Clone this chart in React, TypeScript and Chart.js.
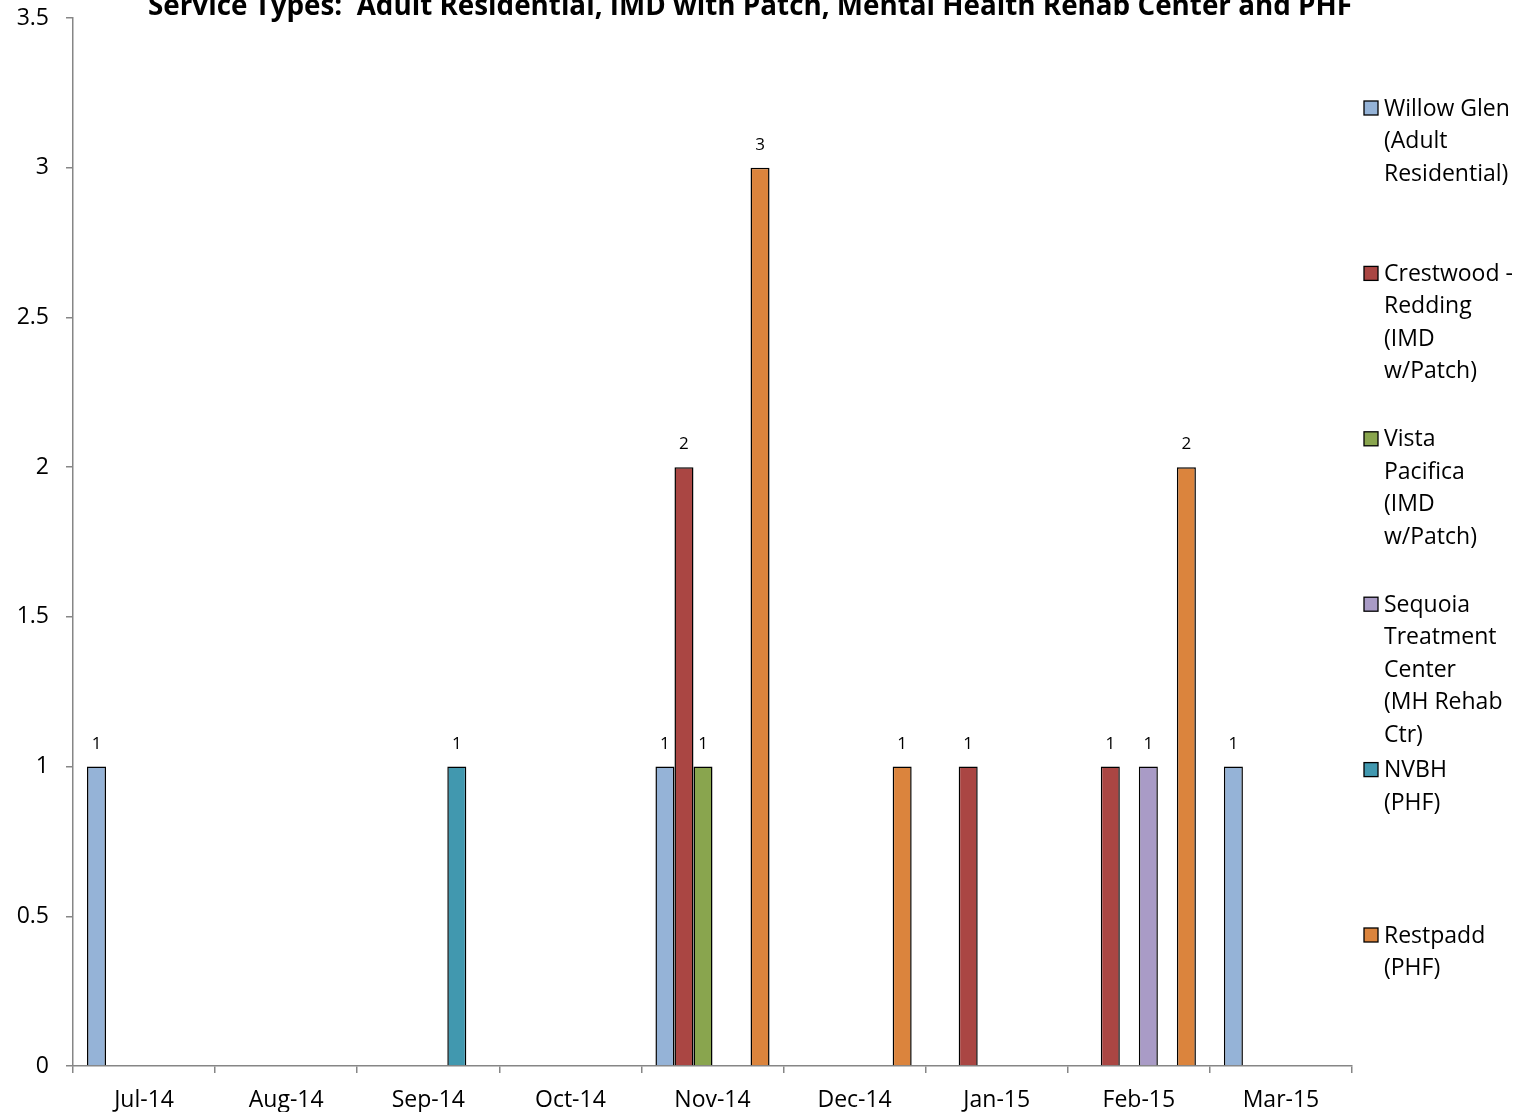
import React, { useEffect, useRef } from "react";
import { Chart, registerables } from "chart.js";

Chart.register(...registerables);

const title = "Service Types:  Adult Residential, IMD with Patch, Mental Health Rehab Center and PHF";
const categories = ["Jul-14", "Aug-14", "Sep-14", "Oct-14", "Nov-14", "Dec-14", "Jan-15", "Feb-15", "Mar-15"];

const seriesNames = [
  "Willow Glen\n(Adult\nResidential)",
  "Crestwood -\nRedding\n(IMD\nw/Patch)",
  "Vista\nPacifica\n(IMD\nw/Patch)",
  "Sequoia\nTreatment\nCenter\n(MH Rehab\nCtr)",
  "NVBH\n(PHF)",
  "Restpadd\n(PHF)",
];

const willowGlen = [1, null, null, null, 1, null, null, null, 1];
const crestwood = [null, null, null, null, 2, null, 1, 1, null];
const vistaPacifica = [null, null, null, null, 1, null, null, null, null];
const sequoia = [null, null, null, null, null, null, null, 1, null];
const nvbh = [null, null, 1, null, null, null, null, null, null];
const restpadd = [null, null, null, null, 3, 1, null, 2, null];

const seriesValues = [willowGlen, crestwood, vistaPacifica, sequoia, nvbh, restpadd];
const seriesColors = ["#95B3D7", "#AA4643", "#89A54E", "#A99BC6", "#4198AF", "#DB843D"];

const FONT = "'Open Sans', Lato, sans-serif";

const extrasPlugin = {
  id: "extras",
  afterDatasetsDraw(chart: any) {
    const ctx = chart.ctx;
    ctx.save();
    // data labels
    ctx.fillStyle = "#000";
    ctx.font = `17px ${FONT}`;
    ctx.textAlign = "center";
    ctx.textBaseline = "alphabetic";
    chart.data.datasets.forEach((ds: any, di: number) => {
      const meta = chart.getDatasetMeta(di);
      meta.data.forEach((bar: any, i: number) => {
        const v = ds.data[i];
        if (v === null || v === undefined) return;
        ctx.fillText(String(v), bar.x, bar.y - 18);
      });
    });
    // title
    ctx.font = `bold 28px ${FONT}`;
    ctx.textAlign = "center";
    ctx.fillText(title, 750, 15, 1204);
    // legend
    const lineH = 32.5;
    ctx.font = `23px ${FONT}`;
    ctx.textAlign = "left";
    ctx.textBaseline = "middle";
    chart.data.datasets.forEach((ds: any, di: number) => {
      const y0 = 108 + di * 165.4;
      ctx.fillStyle = ds.backgroundColor;
      ctx.fillRect(1364, y0 - 7, 14, 14);
      ctx.strokeStyle = "#000";
      ctx.lineWidth = 1.3;
      ctx.strokeRect(1364, y0 - 7, 14, 14);
      ctx.fillStyle = "#000";
      const lines = seriesNames[di].split("\n");
      lines.forEach((ln, li) => ctx.fillText(ln, 1384, y0 + li * lineH + 1));
    });
    ctx.restore();
  },
};

export default function App() {
  const ref = useRef<HTMLCanvasElement>(null);
  useEffect(() => {
    if (!ref.current) return;
    const chart = new Chart(ref.current, {
      type: "bar",
      data: {
        labels: categories,
        datasets: seriesValues.map((vals, i) => ({
          label: seriesNames[i].replace(/\n/g, " "),
          data: vals as any,
          backgroundColor: seriesColors[i],
          borderColor: "#000",
          borderWidth: 1.5,
          categoryPercentage: 0.803,
          barPercentage: 1,
        })),
      },
      options: {
        responsive: false,
        animation: false,
        layout: { padding: { left: 0, right: 166, top: 18, bottom: 0 } },
        plugins: {
          legend: { display: false },
          title: { display: false },
          tooltip: { enabled: false },
        },
        scales: {
          x: {
            grid: { display: true, drawOnChartArea: false, offset: true, tickLength: 7, color: "#868686", lineWidth: 1.5 },
            border: { color: "#868686", width: 1.5 },
            ticks: { color: "#000", font: { family: FONT, size: 23 }, padding: 14, maxRotation: 0 },
            afterFit: (s: any) => { s.height = 46; s.paddingLeft = 0; s.paddingRight = 0; },
          },
          y: {
            min: 0,
            max: 3.5,
            grid: { display: true, drawOnChartArea: false, tickLength: 7, color: "#868686", lineWidth: 1.5 },
            border: { color: "#868686", width: 1.5 },
            ticks: { stepSize: 0.5, color: "#000", font: { family: FONT, size: 23 }, padding: 17, callback: (v: any) => String(v) },
            afterFit: (s: any) => { s.width = 73; s.paddingTop = 0; s.paddingBottom = 0; },
          },
        },
      },
      plugins: [extrasPlugin],
    });
    return () => chart.destroy();
  }, []);
  return (
    <div style={{ position: "fixed", left: 0, top: 0, width: 1518, height: 1112, background: "#fff" }}>
      <canvas ref={ref} width={1518} height={1112} />
    </div>
  );
}
